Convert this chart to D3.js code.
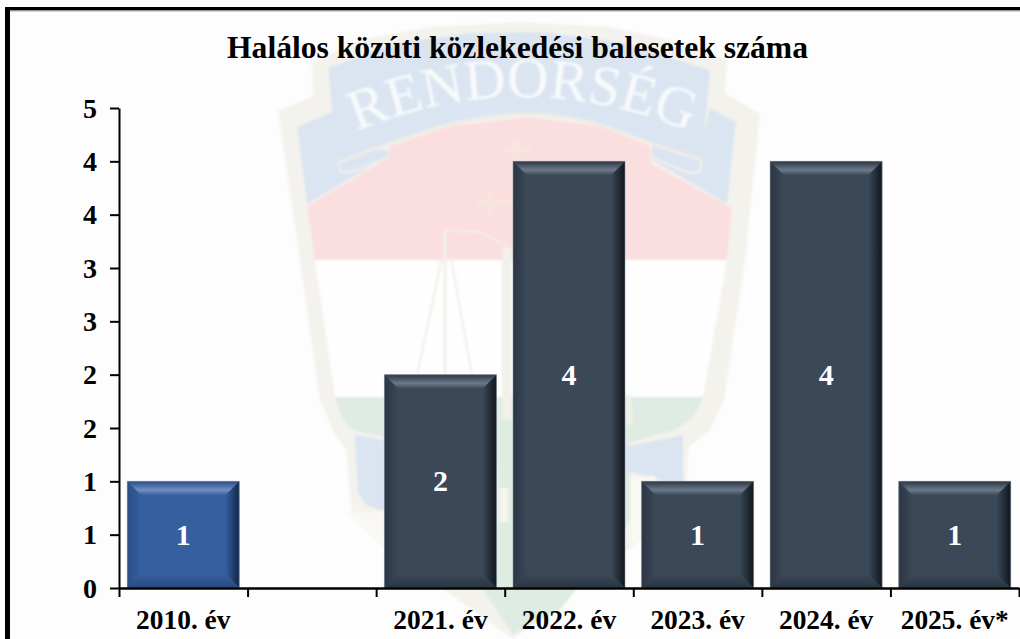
<!DOCTYPE html>
<html><head><meta charset="utf-8">
<script src="https://cdnjs.cloudflare.com/ajax/libs/d3/7.9.0/d3.min.js"></script>
<style>html,body{margin:0;padding:0;background:#fff}svg{display:block}text{font-family:"Liberation Serif","Times New Roman",serif;font-weight:bold}</style>
</head><body><svg id="c" width="1020" height="639"></svg>
<script>
const titleText = "Halálos közúti közlekedési balesetek száma";
const categories = ["2010. év", "", "2021. év", "2022. év", "2023. év", "2024. év", "2025. év*"];
const values = [1, null, 2, 4, 1, 4, 1];
const series = ["past", "none", "recent", "recent", "recent", "recent", "recent"];
const yTicks = [0, 0.5, 1, 1.5, 2, 2.5, 3, 3.5, 4, 4.5];
const watermarkWord = "RENDORSÉG";

const svg = d3.select("#c");
const W = 1020, H = 639;
const m = {l:119, r:1019, t:108, b:588};

svg.append("rect").attr("width",W).attr("height",H).attr("fill","#fff");
svg.append("rect").attr("x",10).attr("y",11).attr("width",W).attr("height",H).attr("fill","#fdfdfd");

// ---------- watermark emblem
const defs = svg.append("defs");
const blur = defs.append("filter").attr("id","soft").attr("x","-5%").attr("y","-5%").attr("width","110%").attr("height","110%");
blur.append("feGaussianBlur").attr("stdDeviation",0.8);
const wm = svg.append("g").attr("filter","url(#soft)");
const lin = d3.line();
const smooth = d3.line().curve(d3.curveCatmullRom.alpha(0.5));
const BEIGE="#f4f2ec", BLUE="#dbe5f1", RED="#fbdfe0", GREEN="#dfece3", WHITE="#fefefe";
function poly(pts,fill,gen){wm.append("path").attr("d",(gen||lin)(pts)+"Z").attr("fill",fill);}
function stroke(pts,col,w,gen){wm.append("path").attr("d",(gen||lin)(pts)).attr("fill","none").attr("stroke",col).attr("stroke-width",w).attr("stroke-linejoin","round");}
// outer shield
poly([[278,111],[313,96],[312,63],[360,40],[430,27],[520,22],[610,27],[680,42],[727,60],[725,93],[760,114],[745,260],[724,400],[710,430],[688,448],[686,505],[660,525],[513,639],[375,540],[352,515],[346,450],[335,435],[320,400],[300,260]],BEIGE);
// side ribbon tails
poly([[297,127],[332,112],[350,150],[388,150],[388,156],[307,204]],BLUE);
poly([[710,108],[736,122],[727,204],[652,160],[652,145],[700,150]],BLUE);
// red band
poly([[307,206],[388,158],[390,146],[450,126],[527,117],[600,126],[650,146],[652,164],[732,208],[727,260],[315,260]],RED);
// white band
poly([[315,260],[727,260],[703,397],[335,397]],WHITE);
// green band
poly([[335,397],[703,397],[699,408],[690,420],[675,430],[623,444],[560,460],[513,470],[440,450],[370,434],[352,430],[342,418]],GREEN);
poly([[497,430],[630,430],[630,520],[560,610],[513,634],[483,590],[497,520]],GREEN);
// lower blue fields
poly([[355,435],[430,448],[430,510],[380,510],[366,505],[358,493]],BLUE);
poly([[620,448],[683,435],[683,490],[655,478],[620,470]],BLUE);
poly([[345,512],[420,512],[470,560],[450,590],[375,540]],"#f9f8f4");
poly([[630,478],[655,476],[660,515],[630,550]],"#f9f8f4");
// main ribbon
poly([[328,68],[397,43],[470,33],[540,32],[620,42],[710,70],[702,160],[650,142],[590,122],[527,114],[460,122],[388,143],[338,163]],BLUE);
// ribbon folds
stroke([[338,163],[341,172],[350,172],[388,158]],"#f0f0ec",2);
stroke([[702,160],[700,172],[690,173],[652,158]],"#f0f0ec",2);
stroke([[338,163],[388,144],[460,122],[527,114],[590,122],[650,143],[702,160]],"#efece6",3,smooth);
// scales and cross
stroke([[445,230],[445,375]],"#f1f0ea",3);
stroke([[442,258],[417,375]],"#f1f0ea",2.5);
stroke([[451,258],[472,375]],"#f1f0ea",2.5);
stroke([[443,230],[480,232],[510,248]],"#f4ebe6",2.5);
stroke([[507,248],[507,420]],"#f1f0ea",10);
stroke([[517,138],[517,160]],"#f8e5e0",8);
stroke([[505,150],[530,150]],"#f8e5e0",6);
stroke([[478,203],[512,203]],"#f8e5e0",6);
stroke([[490,192],[490,215]],"#f8e5e0",5);
stroke([[627,395],[630,425]],"#eef0e6",7);
stroke([[504,488],[504,522]],"#f6f5ef",8);
// word on the ribbon
defs.append("path").attr("id","arc").attr("d","M350,134 Q520,60 696,134");
wm.append("text").attr("fill","#f8fafc").style("font-weight","normal").style("font-size","57px")
  .append("textPath").attr("href","#arc").attr("startOffset","50%").attr("text-anchor","middle").text(watermarkWord);

// ---------- frame
svg.append("rect").attr("x",5).attr("y",7).attr("width",W).attr("height",3.5).attr("fill","#000");
svg.append("rect").attr("x",10).attr("y",10.5).attr("width",W).attr("height",1).attr("fill","#aaa");
svg.append("rect").attr("x",5).attr("y",7).attr("width",5).attr("height",H).attr("fill","#000");

// ---------- scales
const x = d3.scaleBand().domain(categories).range([m.l,m.r]).paddingInner(0.129).paddingOuter(0.0645);
const y = d3.scaleLinear().domain([0,4.5]).range([m.b,m.t]);
const edges = d3.scaleLinear().domain([0,categories.length]).range([m.l,m.r]);

// ---------- bar bevels
const palette = {
  past:  {base:"#365f9f", edge:"#2a4d85", light:"#6f90c3", dark:"#12264a", low:"#284a7d", rim:"#7f9cc9"},
  recent:{base:"#3b4858", edge:"#2b3644", light:"#6b7a8a", dark:"#10161d", low:"#2a3441", rim:"#8b96a2"}
};
function grad(id,x1,y1,x2,y2,stops){
  const g=defs.append("linearGradient").attr("id",id).attr("x1",x1).attr("y1",y1).attr("x2",x2).attr("y2",y2);
  stops.forEach(s=>g.append("stop").attr("offset",s[0]).attr("stop-color",s[1]));
}
Object.keys(palette).forEach(k=>{
  const p=palette[k];
  grad(k+"T",0,0,0,1,[[0,p.edge],[0.62,p.light],[1,p.base]]);
  grad(k+"R",0,0,1,0,[[0,p.base],[1,p.dark]]);
  grad(k+"L",0,0,1,0,[[0,p.edge],[1,p.base]]);
  grad(k+"B",0,0,0,1,[[0,p.base],[1,p.low]]);
});
const bev = 14;
const bars = svg.append("g").selectAll("g").data(categories.map((c,i)=>({c,v:values[i],s:series[i]})).filter(d=>d.v!=null)).join("g");
bars.each(function(d){
  const g=d3.select(this), x0=x(d.c), x1=x0+x.bandwidth(), y0=y(d.v), y1=y(0), p=palette[d.s];
  g.append("rect").attr("x",x0).attr("y",y0).attr("width",x1-x0).attr("height",y1-y0).attr("fill",p.base);
  g.append("path").attr("d",lin([[x0,y0],[x0+bev,y0+bev],[x0+bev,y1-bev],[x0,y1]])+"Z").attr("fill",`url(#${d.s}L)`);
  g.append("path").attr("d",lin([[x1,y0],[x1-bev,y0+bev],[x1-bev,y1-bev],[x1,y1]])+"Z").attr("fill",`url(#${d.s}R)`);
  g.append("path").attr("d",lin([[x0,y1],[x0+bev,y1-bev],[x1-bev,y1-bev],[x1,y1]])+"Z").attr("fill",`url(#${d.s}B)`);
  g.append("path").attr("d",lin([[x0,y0],[x1,y0],[x1-bev,y0+bev],[x0+bev,y0+bev]])+"Z").attr("fill",`url(#${d.s}T)`);
  g.append("rect").attr("x",x0).attr("y",y0).attr("width",x1-x0).attr("height",y1-y0).attr("fill","none").attr("stroke",p.rim).attr("stroke-opacity",0.55).attr("stroke-width",1);
  g.append("text").attr("x",(x0+x1)/2).attr("y",(y0+y1)/2).attr("dy",".33em").attr("text-anchor","middle")
   .attr("fill","#fff").style("font-size","30px").text(d.v);
});

// ---------- axes
const yAxis = d3.axisLeft(y).tickValues(yTicks).tickFormat(v=>Math.round(v)).tickSize(9).tickPadding(13).tickSizeOuter(0);
const ya = svg.append("g").attr("transform",`translate(${m.l},0)`).call(yAxis);
ya.selectAll("text").style("font-size","28px").attr("fill","#000").attr("dy",".33em");
ya.selectAll("line,path").attr("stroke","#000").attr("stroke-width",2);

const xAxis = d3.axisBottom(x).tickSize(0).tickPadding(22);
const xa = svg.append("g").attr("transform",`translate(0,${m.b})`).call(xAxis);
xa.select(".domain").remove();
xa.selectAll("text").style("font-size","27.4px").attr("fill","#000");

const eAxis = d3.axisBottom(edges).tickValues(d3.range(categories.length+1)).tickFormat("").tickSize(9).tickSizeOuter(0);
const ea = svg.append("g").attr("transform",`translate(0,${m.b})`).call(eAxis);
ea.selectAll("line").attr("stroke","#000").attr("stroke-width",2);
ea.select(".domain").attr("stroke","#000").attr("stroke-width",2.5);

svg.append("text").attr("x",517.5).attr("y",58).attr("text-anchor","middle").attr("fill","#000").style("font-size","31.6px").text(titleText);
</script></body></html>
